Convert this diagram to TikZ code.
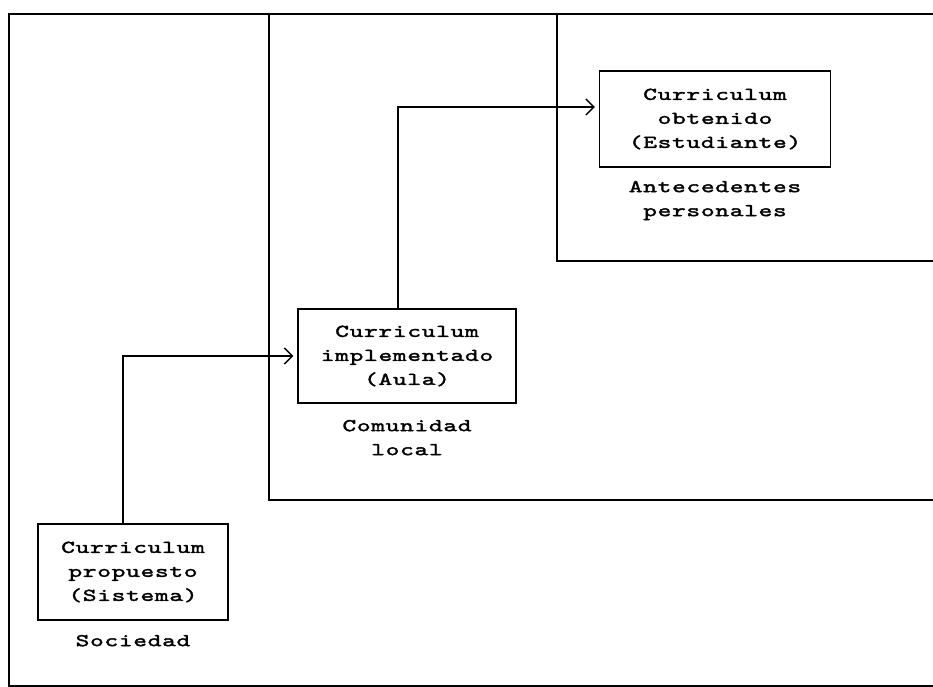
\documentclass[tikz,border=0pt]{standalone}
\usepackage{fontspec}
\newfontfamily\dotfont[FakeStretch=1.45,LetterSpace=4,FakeBold=2]{lmmono10-regular.otf}
\usetikzlibrary{positioning,arrows.meta}
\begin{document}
\begin{tikzpicture}
    [x=1pt,y=-1pt,
     frame/.style={line width=1.8pt},
     box/.style={draw,line width=1.5pt,align=center,inner sep=0pt,
       font=\dotfont\fontsize{18pt}{24pt}\selectfont},
     tag/.style={align=center,inner sep=0pt,
       font=\dotfont\fontsize{18pt}{24pt}\selectfont},
     flow/.style={->,>={Straight Barb[length=8pt,width=16pt]},shorten >=4pt,line width=1.4pt}]
  \useasboundingbox (0,0) rectangle (933,687);
  % nested levels
  \draw[frame] (940,686) -- (9,686) -- (9,14) -- (940,14);
  \draw[frame] (269,14) -- (269,500) -- (940,500);
  \draw[frame] (557,14) -- (557,261) -- (940,261);
  % the three curricula
  \node [box,minimum width=190pt,minimum height=96pt] (prop) at (133,572)
    {Curriculum\\propuesto\\(Sistema)};
  \node [tag,below=14pt of prop] (soc) {Sociedad};
  \node [box,minimum width=218pt,minimum height=94pt] (impl) at (407,356)
    {Curriculum\\implementado\\(Aula)};
  \node [tag,below=16pt of impl] (com) {Comunidad\\local};
  \node [box,minimum width=231pt,minimum height=96pt] (obt) at (715,119)
    {Curriculum\\obtenido\\(Estudiante)};
  \node [tag,below=13pt of obt] (ant) {Antecedentes\\personales};
  % links
  \draw[flow] ([xshift=-10pt]prop.north) |- (impl.west);
  \draw[flow] ([xshift=-9pt]impl.north) |- ([yshift=12pt]obt.west);
\end{tikzpicture}
\end{document}
